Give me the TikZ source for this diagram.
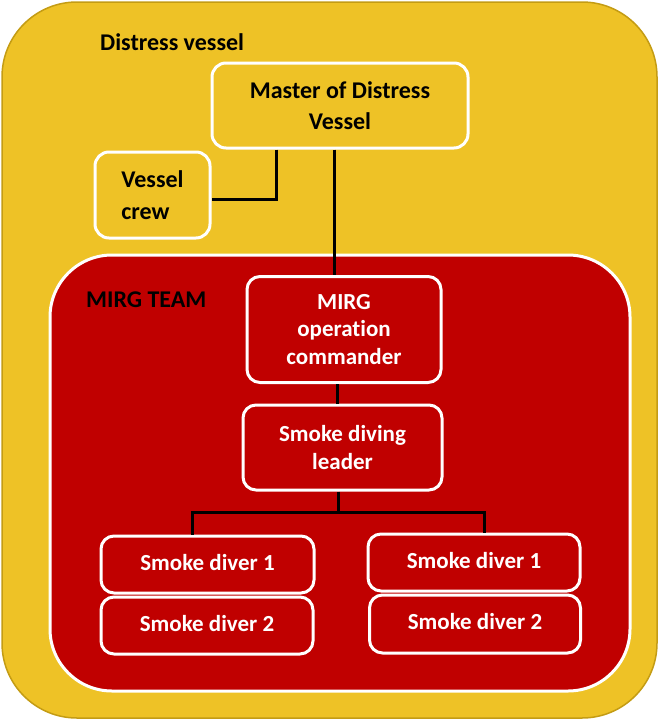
\documentclass[tikz,border=0pt]{standalone}
\usepackage{fontspec}
\setmainfont{Carlito}[Ligatures=NoCommon,RawFeature={-liga;-clig;-dlig}]
\definecolor{shipyellow}{RGB}{238,194,38}
\definecolor{shipedge}{RGB}{196,156,20}
\definecolor{teamred}{RGB}{192,0,0}
\begin{document}
\begin{tikzpicture}[x=1pt,y=-1pt,
  yellowbox/.style={draw=white, line width=3pt, fill=shipyellow, rounded corners=14pt,
    font=\fontsize{24}{33}\selectfont\bfseries, text=black, align=center, inner sep=0pt},
  redbox/.style={draw=white, line width=3pt, fill=teamred, rounded corners=13pt,
    font=\fontsize{23}{27.5}\selectfont\bfseries, text=white, align=center, inner sep=0pt},
  link/.style={draw=black, line width=3pt},
  title/.style={font=\fontsize{24}{28}\selectfont\bfseries, text=black, anchor=base west, inner sep=0pt}]
  \useasboundingbox (0,0) rectangle (659,720);

  % distress vessel area
  \draw[fill=shipyellow, draw=shipedge, line width=1.5pt, rounded corners=75pt]
    (2,2) rectangle (657,718);
  \node[title] (vesseltitle) at (100,50) {Distress vessel};

  % MIRG team area
  \draw[fill=teamred, draw=white, line width=3pt, rounded corners=62pt]
    (50,255) rectangle (630,691);
  \node[title] (teamtitle) at (86,307) {MIRG TEAM};

  % vessel boxes
  \node[yellowbox, minimum width=256pt, minimum height=85pt] (master) at (340,105.5)
    {\raisebox{-2pt}{Master of Distress}\\Vessel};
  \node[yellowbox, minimum width=115pt, minimum height=86pt, align=left, font=\fontsize{24}{32}\selectfont\bfseries] (crew) at (152.5,195)
    {Vessel\\crew};

  % team boxes
  \node[redbox, minimum width=194pt, minimum height=106pt] (commander) at (344,329.5)
    {MIRG\\operation\\commander};
  \node[redbox, minimum width=199pt, minimum height=85pt] (leader) at (342.5,447.5)
    {Smoke diving\\leader};
  \node[redbox, minimum width=213pt, minimum height=57pt, text depth=5pt] (la) at (207.5,564.5) {Smoke diver 1};
  \node[redbox, minimum width=212pt, minimum height=57pt, text depth=5pt] (lb) at (207,625.5) {Smoke diver 2};
  \node[redbox, minimum width=212pt, minimum height=57pt, text depth=5pt] (ra) at (474,562.5) {Smoke diver 1};
  \node[redbox, minimum width=211pt, minimum height=58pt, text depth=5pt] (rb) at (475,624) {Smoke diver 2};

  % connectors
  \draw[link] (master.south -| 276.5,0) |- (crew.east |- 0,199);
  \draw[link] (master.south -| 334,0) -- (commander.north -| 334,0);
  \draw[link] (commander.south -| 337,0) -- (leader.north -| 337,0);
  \coordinate (split) at (338,512);
  \draw[link] (leader.south -| split) -- (split);
  \draw[link] (la.north -| 192.5,0) |- (split) -| (ra.north -| 484.5,0);
\end{tikzpicture}
\end{document}
